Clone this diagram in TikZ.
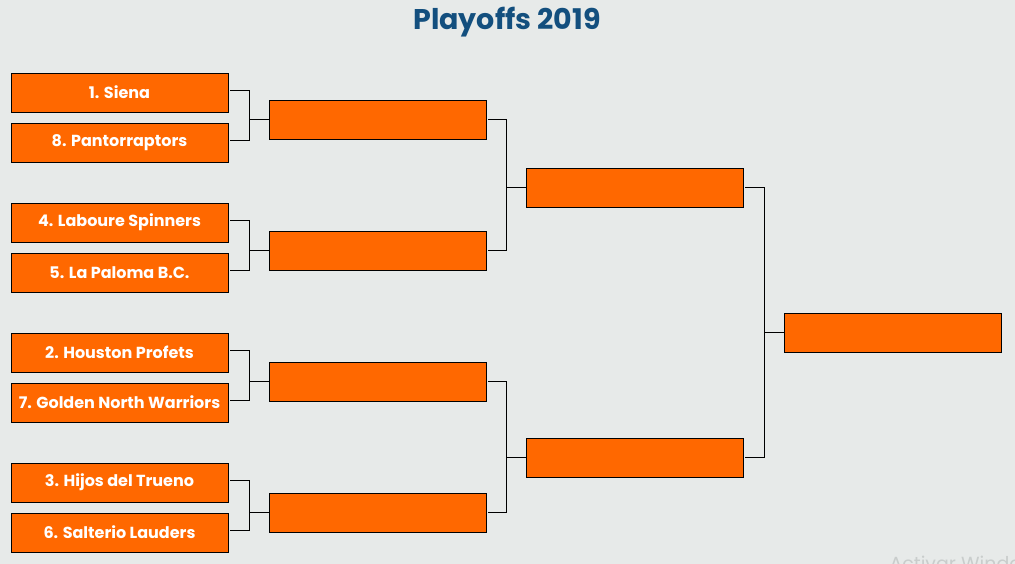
\documentclass[tikz,border=0pt]{standalone}
\usepackage{fontspec}
\setmainfont{Poppins}
\definecolor{bg}{HTML}{E7EAE9}
\definecolor{orng}{HTML}{FF6800}
\definecolor{ttl}{HTML}{134F7E}
\definecolor{wm}{HTML}{C9CDCC}
\begin{document}
\begin{tikzpicture}[x=1pt,y=-1pt,
  box/.style={draw=black, line width=0.9pt, fill=orng, minimum width=217pt, minimum height=39pt, inner sep=0pt, text=white, font=\fontsize{16}{19}\selectfont\bfseries},
  conn/.style={draw=black, line width=0.9pt}]
\useasboundingbox[fill=bg] (0,0) rectangle (1015,564);
\node[text=ttl, font=\fontsize{28.5}{32}\selectfont\bfseries] (title) at (507,22) {Playoffs 2019};
% round 1
\node[box] (t1) at (119.5,92.5) {1. Siena};
\node[box] (t8) at (119.5,142.5) {8. Pantorraptors};
\node[box] (t4) at (119.5,222.5) {4. Laboure Spinners};
\node[box] (t5) at (119.5,272.5) {5. La Paloma B.C.};
\node[box] (t2) at (119.5,352.5) {2. Houston Profets};
\node[box] (t7) at (119.5,402.5) {7. Golden North Warriors};
\node[box] (t3) at (119.5,482.5) {3. Hijos del Trueno};
\node[box] (t6) at (119.5,532.5) {6. Salterio Lauders};
% round 2
\node[box] (s1) at (377.5,119.5) {};
\node[box] (s2) at (377.5,250.5) {};
\node[box] (s3) at (377.5,381.5) {};
\node[box] (s4) at (377.5,512.5) {};
% round 3
\node[box] (f1) at (634.5,187.5) {};
\node[box] (f2) at (634.5,457.5) {};
% final
\node[box] (w) at (892.5,332.5) {};
% connectors round 1 -> 2
\foreach \a/\b/\c in {t1/t8/s1, t4/t5/s2, t2/t7/s3, t3/t6/s4}{
  \draw[conn] ([xshift=2pt,yshift=2pt]\a.east) -- ++(19,0) |- ([xshift=2pt,yshift=2pt]\b.east);
  \draw[conn] (\c.west) -- ++(-20,0);
}
% round 2 -> 3
\foreach \a/\b/\c in {s1/s2/f1, s3/s4/f2}{
  \draw[conn] ([xshift=2pt]\a.east) -- ++(18,0) |- ([xshift=2pt]\b.east);
  \draw[conn] (\c.west) -- ++(-20,0);
}
% round 3 -> final
\draw[conn] ([xshift=2pt]f1.east) -- ++(19,0) |- ([xshift=2pt]f2.east);
\draw[conn] (w.west) -- ++(-20,0);
% watermark (cut off at the edge, as in the reference)
\node[anchor=west, text=wm, font=\fontsize{19}{22}\selectfont] (wmk) at (886,563) {Activar Windows};
\end{tikzpicture}
\end{document}
